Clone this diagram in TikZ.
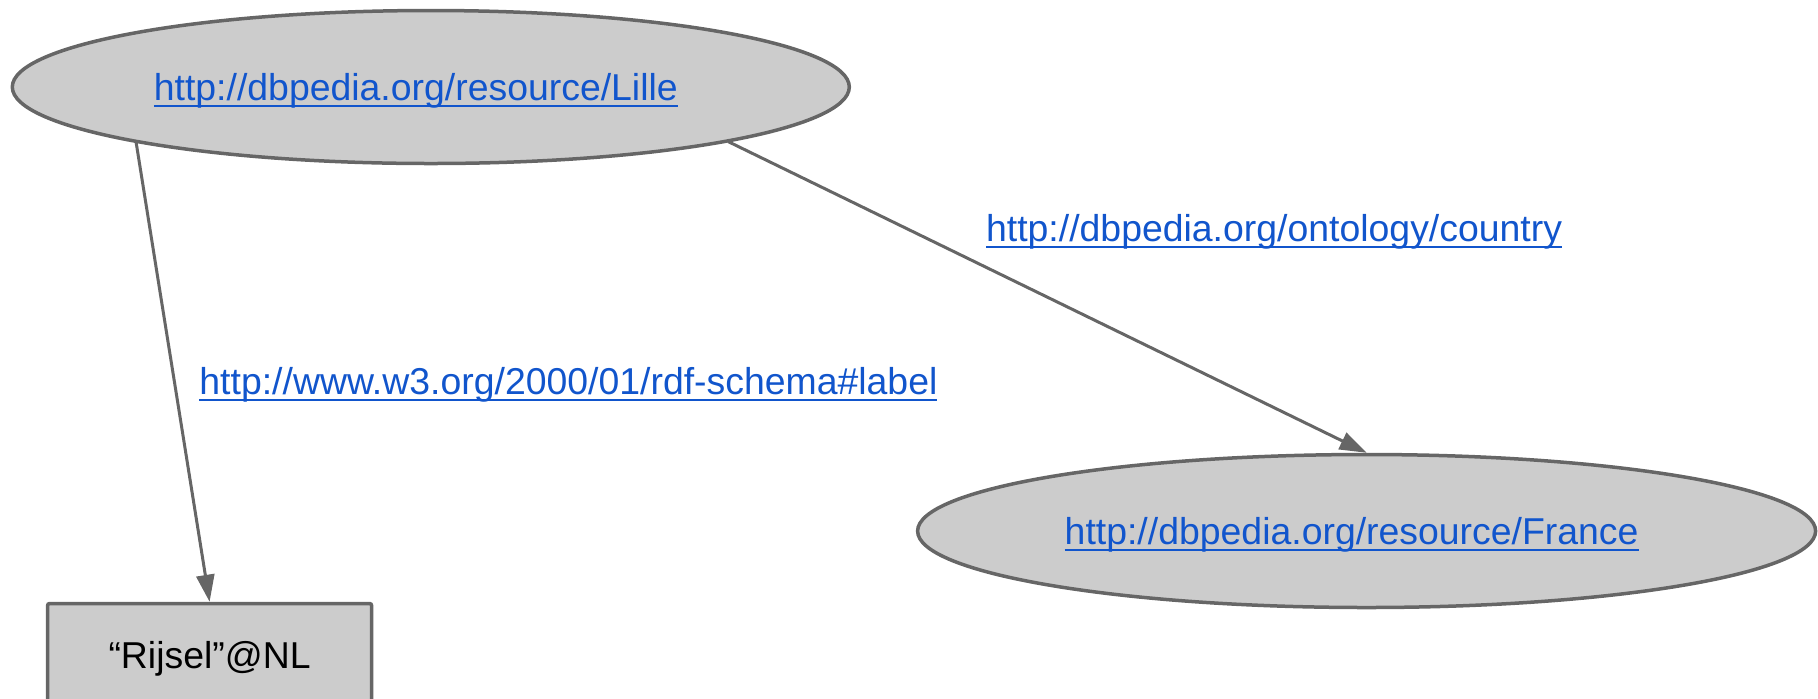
\documentclass[tikz,border=0pt]{standalone}
\usepackage{fontspec}
\setmainfont{Liberation Sans}
\usetikzlibrary{shapes.geometric, arrows.meta, positioning}
\definecolor{nodefill}{HTML}{CCCCCC}
\definecolor{nodeline}{HTML}{666666}
\definecolor{linkblue}{HTML}{1155CC}
\newcommand{\weblink}[1]{{\color{linkblue}\setbox0=\hbox{#1}\rlap{\rule[-3.1pt]{\wd0}{1.1pt}}\box0}}
\tikzset{
	resource/.style  = {draw=nodeline, ellipse, line width=1.75pt, fill=nodefill, minimum height=76.5pt, inner sep=0pt},
	literal/.style   = {draw=nodeline, rectangle, rounded corners=1pt, line width=1.75pt, fill=nodefill, minimum width=162pt, minimum height=51pt, text centered},
	arrow/.style     = {-{Triangle[length=13.5pt, width=9pt]}, draw=nodeline, line width=1.5pt},
	predicate/.style = {inner sep=0pt}
}

\begin{document}
\begin{tikzpicture}[every node/.style={font=\fontsize{18.7pt}{22pt}\selectfont, text height=15.5pt, text depth=2pt}]
	\useasboundingbox (0,0) rectangle (909pt,-349pt);
	\node (lille)  [resource, minimum width=418.5pt] at (215.4pt,-43.5pt) {\weblink{http://dbpedia.org/resource/Lille}\kern15pt};
	\node (france) [resource, minimum width=449pt, on grid, below right=222pt and 467.9pt of lille] {\weblink{http://dbpedia.org/resource/France}\kern15pt};
	\node (rijsel) [literal, on grid, below left=283.75pt and 110.6pt of lille] {“Rijsel”@NL};

	% edges leave the ellipse at fixed border points
	\draw [arrow] ([shift={(-147.4pt,-27.3pt)}]lille.center) -- node[predicate, pos=.521, right=11.8pt] {\weblink{http://www.w3.org/2000/01/rdf-schema\#label}} (rijsel.north);
	\draw [arrow] ([shift={(148.7pt,-27.3pt)}]lille.center) -- node[predicate, pos=.4016, anchor=south west, yshift=9.75pt] {\weblink{http://dbpedia.org/ontology/country}} (france.north);
\end{tikzpicture}
\end{document}
